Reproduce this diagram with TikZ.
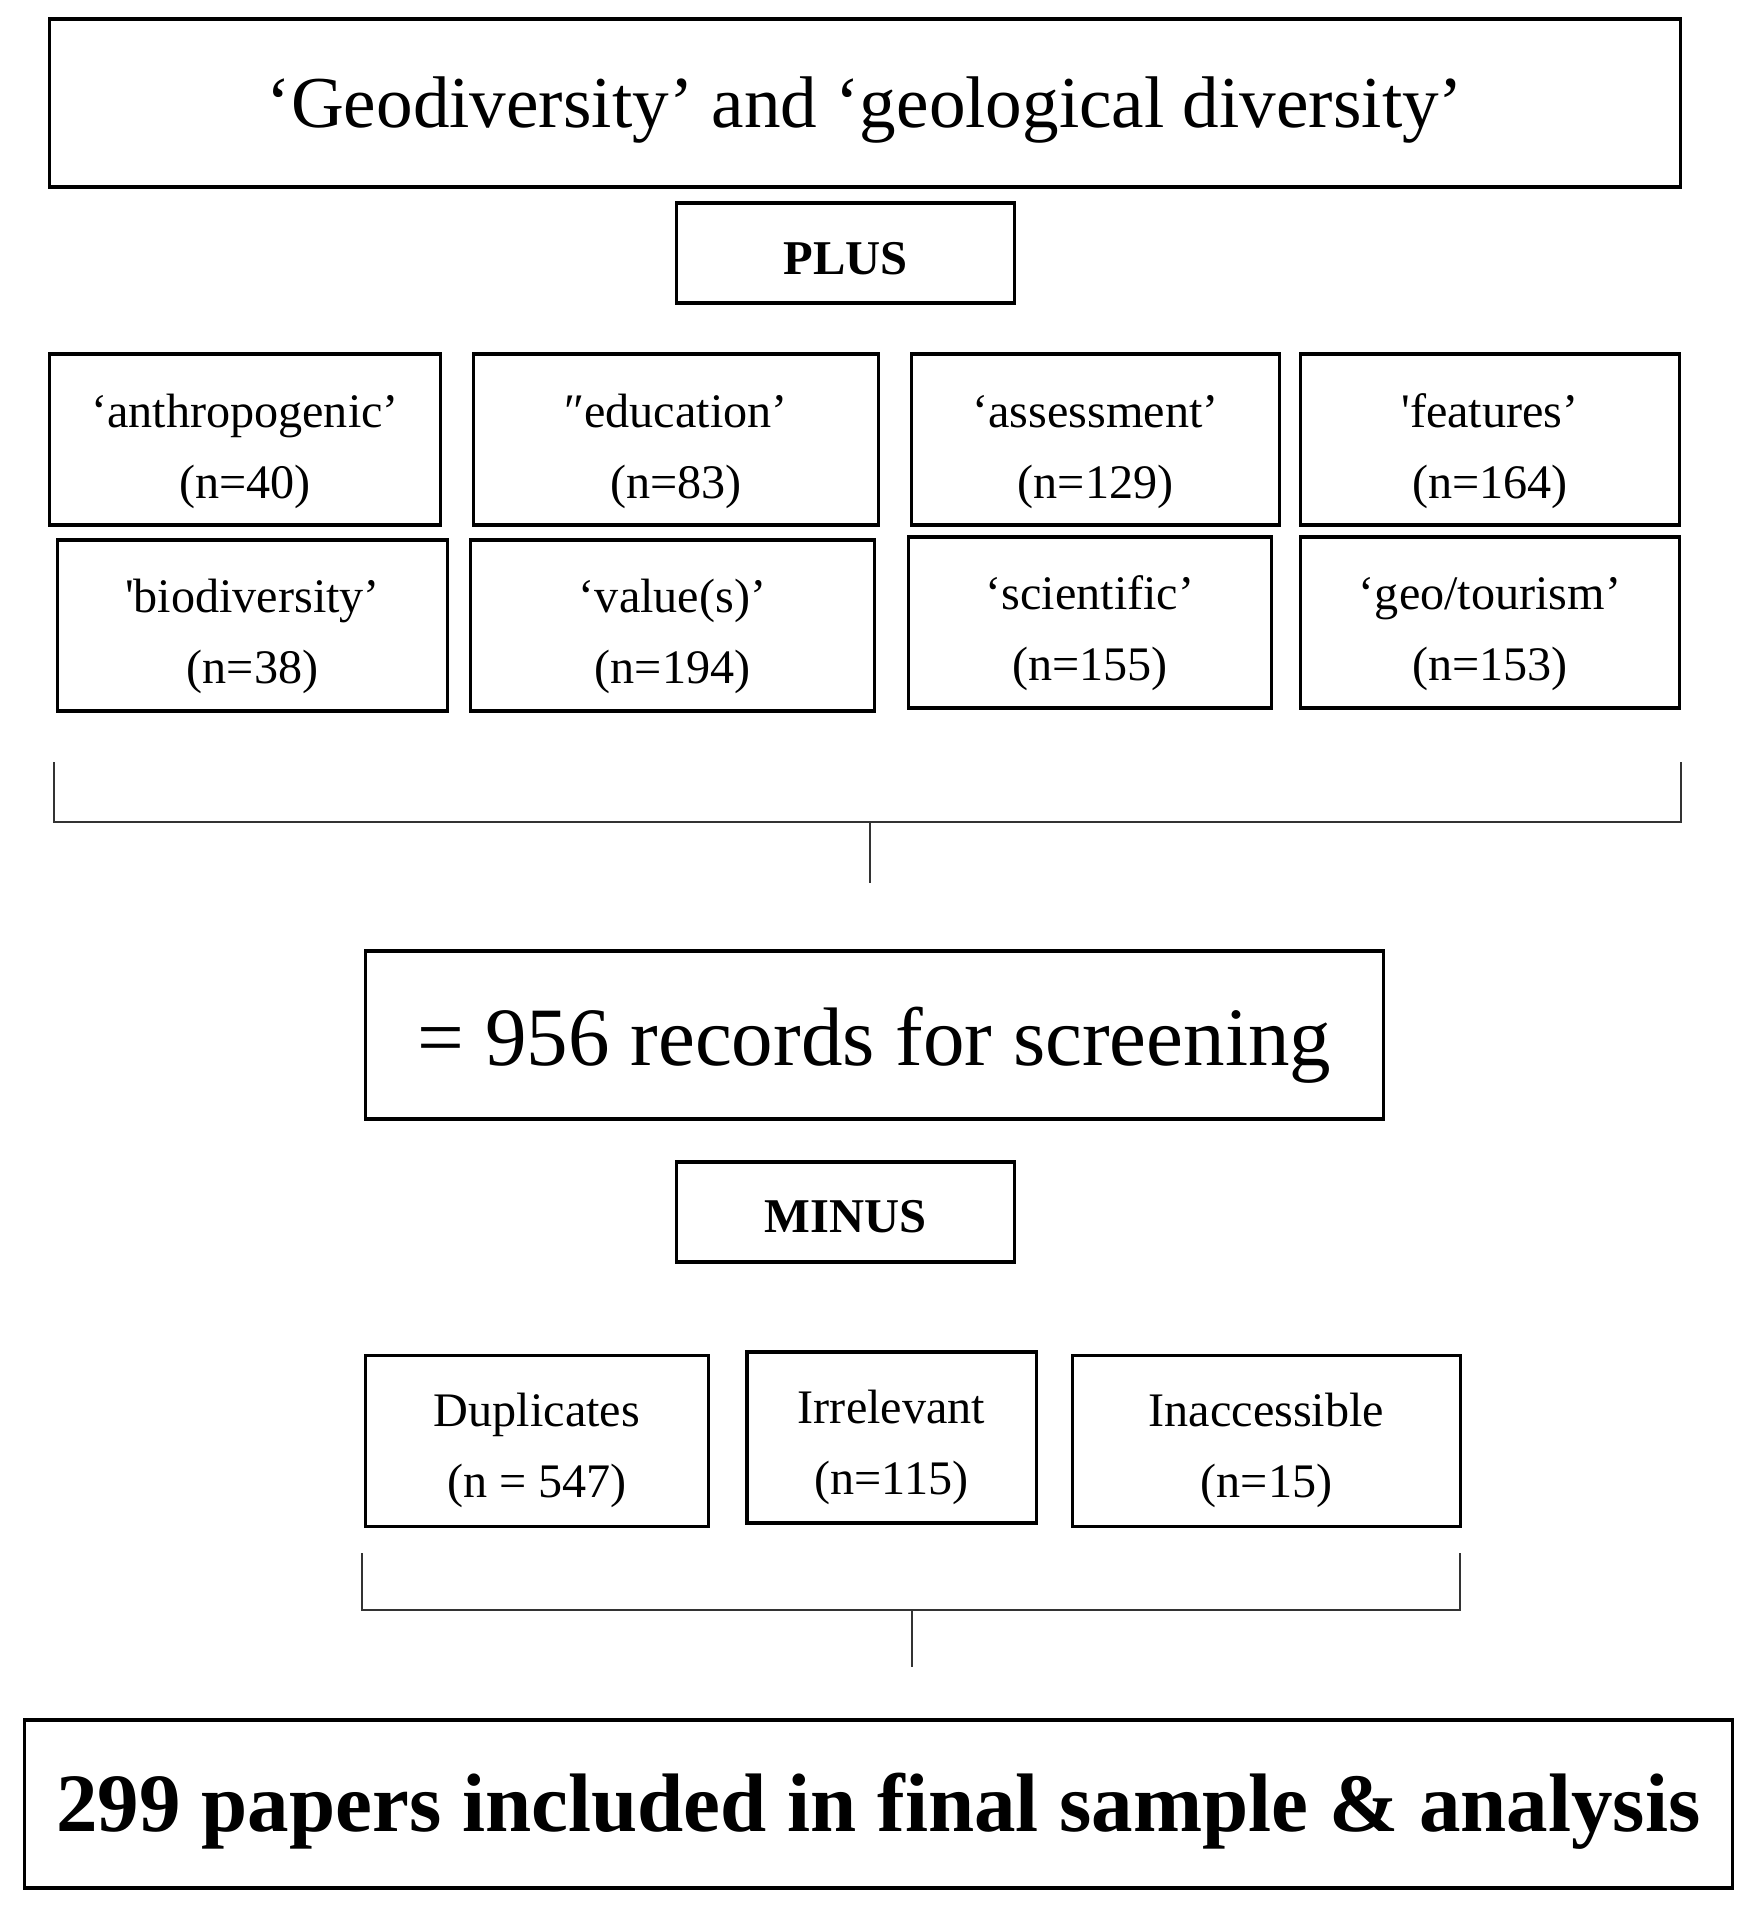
\documentclass[tikz,border=0pt]{standalone}
\usepackage{fontspec}
\setmainfont{Liberation Serif}
\usepackage{tikz}
\usetikzlibrary{positioning,calc}

% text set a little lower inside its box
\newcommand{\dropone}[2]{\raisebox{-#1}[\height][\depth]{#2}}
\newcommand{\droptwo}[3]{\raisebox{-#1}[\height][\depth]{\begin{tabular}{@{}c@{}}#2\\#3\end{tabular}}}

\begin{document}
\begin{tikzpicture}[x=0.01cm, y=-0.01cm]
\tikzset{
frame/.style    = {draw, line width=0.9pt, shape=rectangle, fill=white, inner sep=0pt, align=center},
term/.style     = {frame, font=\fontsize{13.7}{20.2}\selectfont, minimum height=1.71cm},
op/.style       = {frame, font=\bfseries\fontsize{13.8}{16}\selectfont, minimum width=3.37cm, minimum height=1.0cm},
big/.style      = {frame, minimum height=1.68cm},
brace/.style    = {draw, line width=0.6pt, black!80},
coord/.style    = {coordinate},
}
    \useasboundingbox (0,0) rectangle (1755,1908);

    % Search nodes
    \node [big, minimum width=16.30cm, font=\fontsize{20.8}{24}\selectfont]
          (q_title) at (865, 103)   {\dropone{0.07cm}{‘Geodiversity’ and ‘geological diversity’}};
    \node [op]                      (q_plus)  at (845.5, 253)  {\dropone{0.06cm}{PLUS}};

    % Term nodes, first row
    \node [term, minimum width=3.90cm] (t_anthro)  at (245, 439.5)   {\droptwo{0.09cm}{‘anthropogenic’}{(n=40)}};
    \node [term, minimum width=4.04cm] (t_educ)    at (676, 439.5)   {\droptwo{0.09cm}{″education’}{(n=83)}};
    \node [term, minimum width=3.67cm] (t_assess)  at (1095.5, 439.5) {\droptwo{0.09cm}{‘assessment’}{(n=129)}};
    \node [term, minimum width=3.78cm] (t_feat)    at (1490, 439.5)  {\droptwo{0.09cm}{\textquotesingle features’}{(n=164)}};

    % Term nodes, second row
    \node [term, minimum width=3.89cm] (t_biodiv)  at (252.5, 625.5) {\droptwo{0.08cm}{\textquotesingle biodiversity’}{(n=38)}};
    \node [term, minimum width=4.03cm] (t_value)   at (672.5, 625.5) {\droptwo{0.08cm}{‘value(s)’}{(n=194)}};
    \node [term, minimum width=3.62cm] (t_sci)     at (1090, 622.5)  {\droptwo{0.08cm}{‘scientific’}{(n=155)}};
    \node [term, minimum width=3.78cm] (t_geo)     at (1490, 622.5)  {\droptwo{0.08cm}{‘geo/tourism’}{(n=153)}};

    % Sum bracket
    \node [coord] (sum_left)  at (54, 762)   {};
    \node [coord] (sum_right) at (1681, 762) {};
    \node [coord] (sum_mid)   at (870, 822)  {};
    \node [coord] (sum_end)   at (870, 883)  {};
    \draw [brace] (sum_left) |- (sum_mid) -| (sum_right);
    \draw [brace] (sum_mid) -- (sum_end);

    % Screening nodes
    \node [big, minimum width=10.17cm, font=\fontsize{23.6}{28}\selectfont]
          (s_records) at (874.5, 1035) {\dropone{0.10cm}{= 956 records for screening}};
    \node [op]                      (s_minus) at (845.5, 1212) {\dropone{0.05cm}{MINUS}};

    % Exclusion nodes
    \node [term, minimum width=3.42cm] (x_dup)    at (537, 1441)    {\droptwo{0.07cm}{Duplicates}{(n = 547)}};
    \node [term, minimum width=2.89cm] (x_irr)    at (891.5, 1437.5) {\droptwo{0.07cm}{Irrelevant}{(n=115)}};
    \node [term, minimum width=3.87cm] (x_inacc)  at (1266.5, 1441) {\droptwo{0.07cm}{Inaccessible}{(n=15)}};

    % Exclusion bracket
    \node [coord] (ex_left)  at (362, 1553)  {};
    \node [coord] (ex_right) at (1460, 1553) {};
    \node [coord] (ex_mid)   at (912, 1610)  {};
    \node [coord] (ex_end)   at (912, 1667)  {};
    \draw [brace] (ex_left) |- (ex_mid) -| (ex_right);
    \draw [brace] (ex_mid) -- (ex_end);

    % Final node
    \node [big, minimum width=17.07cm, font=\bfseries\fontsize{23.6}{28}\selectfont]
          (f_final) at (878.5, 1804) {\dropone{0.07cm}{299 papers included in final sample \& analysis}};

\end{tikzpicture}
\end{document}
